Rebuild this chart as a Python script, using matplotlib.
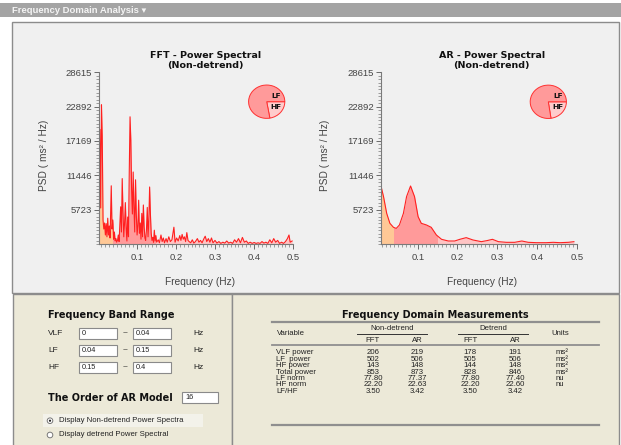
import matplotlib
matplotlib.use('Agg')
import matplotlib.pyplot as plt
from matplotlib.patches import Rectangle, Circle
from matplotlib.ticker import FixedLocator, MultipleLocator, AutoMinorLocator

# FFT spectrum (non-detrend)
fft_freq = [0.004, 0.006, 0.008, 0.010, 0.012, 0.014, 0.016, 0.018, 0.020, 0.022,
            0.024, 0.026, 0.028, 0.030, 0.032, 0.035, 0.037, 0.039, 0.041, 0.043,
            0.045, 0.047, 0.049, 0.051, 0.053, 0.055, 0.057, 0.059, 0.061, 0.063,
            0.065, 0.067, 0.069, 0.071, 0.073, 0.075, 0.077, 0.079, 0.081, 0.083,
            0.085, 0.087, 0.089, 0.091, 0.093, 0.095, 0.097, 0.099, 0.101, 0.103,
            0.105, 0.107, 0.109, 0.111, 0.113, 0.115, 0.117, 0.119, 0.121, 0.123,
            0.125, 0.127, 0.129, 0.131, 0.133, 0.135, 0.137, 0.139, 0.141, 0.143,
            0.145, 0.147, 0.149, 0.151, 0.155, 0.158, 0.162, 0.165, 0.168, 0.171,
            0.175, 0.178, 0.182, 0.186, 0.190, 0.195, 0.198, 0.202, 0.206, 0.210,
            0.213, 0.216, 0.219, 0.222, 0.225, 0.228, 0.231, 0.234, 0.238, 0.242,
            0.246, 0.250, 0.255, 0.259, 0.263, 0.267, 0.271, 0.275, 0.279, 0.283,
            0.287, 0.291, 0.295, 0.300, 0.305, 0.310, 0.315, 0.320, 0.325, 0.330,
            0.335, 0.340, 0.345, 0.350, 0.355, 0.360, 0.365, 0.370, 0.375, 0.380,
            0.385, 0.390, 0.395, 0.400, 0.405, 0.410, 0.415, 0.420, 0.425, 0.430,
            0.435, 0.440, 0.445, 0.450, 0.455, 0.460, 0.465, 0.470, 0.475, 0.480,
            0.485, 0.489, 0.492, 0.497]
fft_psd = [8000, 19100, 6000, 23200, 18000, 4000, 2500, 3500, 1500, 3400,
           1200, 4300, 1500, 3000, 1000, 9700, 2500, 4000, 800, 2000,
           500, 900, 300, 600, 1500, 400, 3200, 6200, 2000, 10900,
           5300, 1200, 3500, 6900, 2800, 500, 4500, 1200, 12000, 21200,
           17300, 9000, 5000, 12000, 6000, 2000, 10700, 5000, 1500, 3000,
           7300, 1800, 3500, 800, 5100, 1200, 6500, 2900, 1000, 600,
           2500, 6100, 1200, 4000, 9500, 5000, 1800, 600, 1100, 300,
           2300, 500, 1400, 300, 700, 200, 1500, 400, 1000, 200,
           900, 300, 1200, 400, 700, 2800, 300, 1000, 500, 1400,
           600, 1600, 800, 1200, 400, 1900, 600, 400, 200, 700,
           150, 400, 900, 300, 600, 200, 800, 1300, 400, 900,
           300, 1000, 200, 600, 150, 400, 100, 300, 150, 500,
           150, 300, 100, 700, 300, 900, 200, 1100, 300, 500,
           100, 300, 100, 250, 100, 200, 100, 400, 150, 300,
           100, 700, 200, 900, 300, 600, 100, 300, 100, 400,
           900, 1500, 300, 500]

# AR spectrum (non-detrend)
ar_freq = [0.007, 0.014, 0.022, 0.030, 0.039, 0.046, 0.054, 0.064, 0.072, 0.082,
           0.092, 0.101, 0.109, 0.122, 0.134, 0.147, 0.160, 0.177, 0.193, 0.206,
           0.222, 0.239, 0.260, 0.274, 0.288, 0.303, 0.323, 0.344, 0.362, 0.378,
           0.399, 0.424, 0.441, 0.458, 0.479, 0.493]
ar_psd = [9830, 7900, 5100, 3450, 2780, 2600, 3170, 5100, 7900, 9670,
          7900, 4560, 3450, 3170, 2780, 1500, 780, 500, 500, 780,
          1060, 670, 390, 560, 780, 390, 280, 280, 500, 280,
          220, 220, 280, 220, 280, 390]

y_ticks = [5723, 11446, 17169, 22892, 28615]
x_ticks = [0.1, 0.2, 0.3, 0.4, 0.5]

bands = [(0.0, 0.04, '#ffc896'), (0.04, 0.15, '#ff9a9a'), (0.15, 0.5, '#ffc4c4')]
band_names = ['VLF', 'LF', 'HF']
band_lo = ['0', '0.04', '0.15']
band_hi = ['0.04', '0.15', '0.4']
ar_order = '16'

# measurement table
variables = ['VLF power', 'LF  power', 'HF power', 'Total power', 'LF norm', 'HF norm', 'LF/HF']
nd_fft = ['206', '502', '143', '853', '77.80', '22.20', '3.50']
nd_ar = ['219', '506', '148', '873', '77.37', '22.63', '3.42']
d_fft = ['178', '505', '144', '828', '77.80', '22.20', '3.50']
d_ar = ['191', '506', '148', '846', '77.40', '22.60', '3.42']
units = ['ms²', 'ms²', 'ms²', 'ms²', 'nu', 'nu', '']

lf_hf_fft = [77.80, 22.20]
lf_hf_ar = [77.37, 22.63]

W, H = 621, 445
fig = plt.figure(figsize=(W / 100, H / 100), dpi=100, facecolor='white')

# background layer in pixel coordinates
bg = fig.add_axes([0, 0, 1, 1], zorder=0)
bg.set_xlim(0, W)
bg.set_ylim(H, 0)
bg.axis('off')

bg.add_patch(Rectangle((0, 3), W, 14, fc='#a4a4a4', ec='none'))
bg.text(12, 10.5, 'Frequency Domain Analysis ▾', color='#f4f4f4', fontsize=6.8,
        fontweight='bold', family=['Liberation Sans', 'DejaVu Sans'], va='center')
bg.add_patch(Rectangle((12, 22), 607, 271, fc='#f0f0f0', ec='#8c8c8c', lw=1))
bg.add_patch(Rectangle((13, 294), 219, 152, fc='#ece9d8', ec='#8c8c8c', lw=1))
bg.add_patch(Rectangle((232, 294), 387, 152, fc='#ece9d8', ec='#8c8c8c', lw=1))

# left bottom panel: band ranges
lab = dict(family='Liberation Sans', color='#222222')
bg.text(48, 315.5, 'Frequency Band Range', fontsize=7, fontweight='bold', va='center', color='#111111')
row_y = [333.3, 350.3, 367.5]
for name, lo, hi, y in zip(band_names, band_lo, band_hi, row_y):
    bg.text(48, y, name, fontsize=6, va='center', **lab)
    for x0, txt in [(79, lo), (133, hi)]:
        bg.add_patch(Rectangle((x0, y - 5.3), 38, 10.6, fc='white', ec='#8a8a8a', lw=0.8))
        bg.text(x0 + 3, y, txt, fontsize=5.3, va='center', **lab)
    bg.text(125.5, y, '~', fontsize=6, va='center', ha='center', **lab)
    bg.text(193, y, 'Hz', fontsize=6, va='center', **lab)

bg.text(48, 398, 'The Order of AR Model', fontsize=7, fontweight='bold', va='center', color='#111111')
bg.add_patch(Rectangle((182, 392), 36, 11, fc='white', ec='#8a8a8a', lw=0.8))
bg.text(185, 397.5, ar_order, fontsize=5.3, va='center', **lab)

bg.add_patch(Rectangle((43, 414), 160, 13, fc='#f3f2ea', ec='none'))
for y, txt, sel in [(420.7, 'Display Non-detrend Power Spectra', True),
                    (435, 'Display detrend Power Spectral', False)]:
    bg.add_patch(Circle((50, y), 2.8, fc='white', ec='#777777', lw=0.7))
    if sel:
        bg.add_patch(Circle((50, y), 1.1, fc='#222222', ec='none'))
    bg.text(59, y, txt, fontsize=5.6, va='center', **lab)

# right bottom panel: table
bg.text(435, 315, 'Frequency Domain Measurements', fontsize=7, fontweight='bold',
        ha='center', va='center', color='#111111')
bg.plot([272, 599], [321.5, 321.5], color='#8f8f8f', lw=1.6)
bg.plot([272, 599], [345, 345], color='#8f8f8f', lw=1.3)
bg.plot([272, 599], [425, 425], color='#8f8f8f', lw=1.6)
bg.plot([357, 427], [333.5, 333.5], color='#333333', lw=0.7)
bg.plot([458, 528], [333.5, 333.5], color='#333333', lw=0.7)
ts = 5.6
bg.text(276.5, 333.5, 'Variable', fontsize=ts, va='center', **lab)
bg.text(392, 328.5, 'Non-detrend', fontsize=ts, va='center', ha='center', **lab)
bg.text(493, 328.5, 'Detrend', fontsize=ts, va='center', ha='center', **lab)
bg.text(560, 333.5, 'Units', fontsize=ts, va='center', ha='center', **lab)
col_x = [373, 417, 470, 515]
for x, h in zip(col_x, ['FFT', 'AR', 'FFT', 'AR']):
    bg.text(x, 340.5, h, fontsize=ts, va='center', ha='center', **lab)
rows_y = [352.7, 359.2, 365.7, 372.1, 378.5, 385, 391.5]
for i, y in enumerate(rows_y):
    bg.text(276.5, y, variables[i], fontsize=ts, va='center', **lab)
    for x, col in zip(col_x, [nd_fft, nd_ar, d_fft, d_ar]):
        bg.text(x, y, col[i], fontsize=ts, va='center', ha='center', **lab)
    bg.text(556, y, units[i], fontsize=ts, va='center', **lab)


def spectrum(rect, freq, psd, title, title_x, xlab_x, left):
    ax = fig.add_axes(rect, zorder=1)
    ax.set_facecolor('none')
    for lo, hi, c in bands:
        poly = ax.fill_between(freq, psd, 0, color=c, lw=0)
        poly.set_clip_path(Rectangle((lo, 0), hi - lo, 40000, transform=ax.transData))
    ax.plot(freq, psd, color='#ff2020', lw=0.8)
    ax.set_xlim(left, 0.5)
    ax.set_ylim(0, 28615)
    for s in ['top', 'right']:
        ax.spines[s].set_visible(False)
    for s in ['left', 'bottom']:
        ax.spines[s].set_color('#7a7a7a')
        ax.spines[s].set_linewidth(0.8)
    ax.yaxis.set_major_locator(FixedLocator(y_ticks))
    ax.yaxis.set_minor_locator(AutoMinorLocator(10))
    ax.xaxis.set_major_locator(FixedLocator(x_ticks))
    ax.xaxis.set_minor_locator(MultipleLocator(0.01))
    ax.set_yticklabels([str(v) for v in y_ticks])
    ax.set_xticklabels([str(v) for v in x_ticks])
    ax.tick_params(which='major', length=3.5, width=0.7, color='#6a6a6a', labelsize=6.8,
                   labelcolor='#444444', pad=1.5)
    ax.tick_params(axis='x', which='major', pad=3)
    ax.tick_params(which='minor', length=2, width=0.5, color='#7a7a7a')
    for t in ax.get_xticklabels() + ax.get_yticklabels():
        t.set_family('Liberation Sans')
    ax.set_ylabel('PSD ( ms² / Hz)', fontsize=7.3, color='#444444', family='Liberation Sans')
    ax.yaxis.set_label_coords(-0.258, 0.518)
    ax.set_xlabel('Frequency (Hz)', fontsize=7.3, color='#444444', family='Liberation Sans')
    ax.xaxis.set_label_coords(xlab_x, -0.192)
    ax.text(title_x, 1.068, title, transform=ax.transAxes, ha='center', va='center',
            fontsize=6.8, fontweight='bold', color='#111111', linespacing=1.1)
    return ax


spectrum([99 / W, 1 - 244 / H, 194.3 / W, 171.7 / H], fft_freq, fft_psd,
         'FFT - Power Spectral\n(Non-detrend)', 0.546, 0.52, 0.0037)
spectrum([380.7 / W, 1 - 244 / H, 196 / W, 171.7 / H], ar_freq, ar_psd,
         'AR - Power Spectral\n(Non-detrend)', 0.566, 0.515, 0.0069)


def lf_hf_pie(cx, cy, shares):
    rx, ry = 19, 17.5
    pax = fig.add_axes([(cx - rx) / W, 1 - (cy + ry) / H, 2 * rx / W, 2 * ry / H], zorder=2)
    pax.pie(shares[::-1], colors=['#ffcccc', '#ff9a9a'], startangle=0, counterclock=False,
            wedgeprops=dict(edgecolor='#ff3030', linewidth=0.7))
    pax.set_aspect('auto')
    pax.set_xlim(-1.05, 1.05)
    pax.set_ylim(-1.05, 1.05)
    pax.axis('off')


lf_hf_pie(266.7, 101.7, lf_hf_fft)
lf_hf_pie(548.3, 101.8, lf_hf_ar)

# pie labels sit above the pie axes
top = fig.add_axes([0, 0, 1, 1], zorder=3)
top.set_xlim(0, W)
top.set_ylim(H, 0)
top.axis('off')
for cx, cy in [(266.7, 101.7), (548.3, 101.8)]:
    top.text(cx + 9.5, cy - 5.5, 'LF', fontsize=5.3, fontweight='bold', ha='center', va='center', color='#111111')
    top.text(cx + 9.5, cy + 5, 'HF', fontsize=5.3, fontweight='bold', ha='center', va='center', color='#111111')

fig.savefig('out.png', dpi=100, facecolor='white')
